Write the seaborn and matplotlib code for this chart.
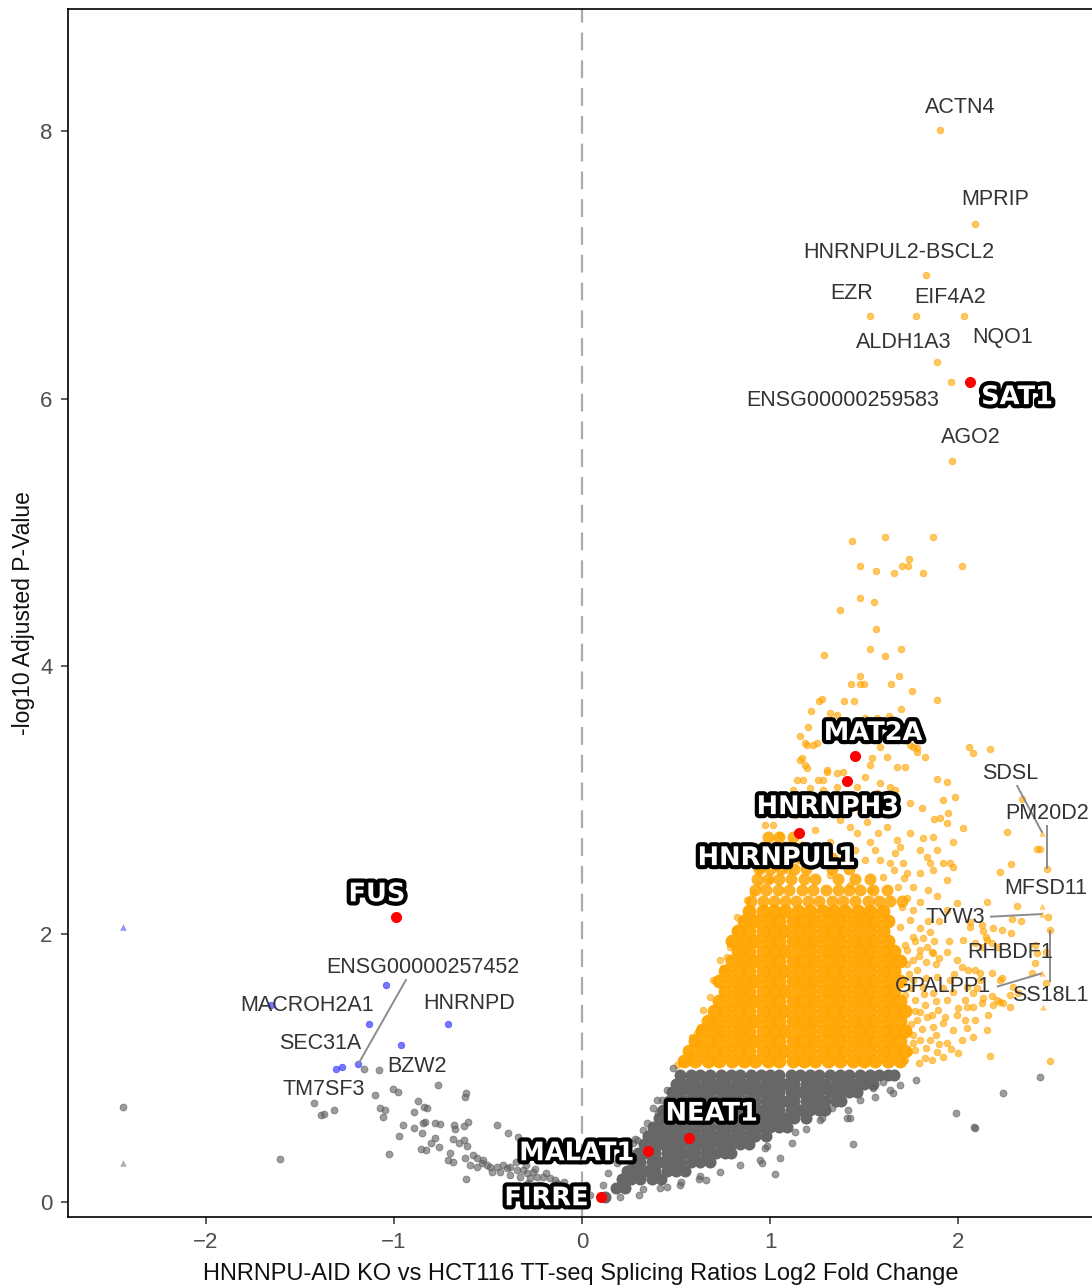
import matplotlib
matplotlib.use("Agg")
import matplotlib.pyplot as plt
import matplotlib.patheffects as pe
import pandas as pd
import seaborn as sns

# ---------------------------------------------------------------- data
# Saturated core of the non-significant cloud: row heights and the x positions on each row
gray_dense_y = [0.04, 0.105, 0.17, 0.235, 0.30, 0.365, 0.43, 0.495, 0.56, 0.625, 0.69, 0.755, 0.82, 0.885, 0.95]
gray_dense_x = [
    [0.12],
    [0.18, 0.23],
    [0.21, 0.26, 0.31, 0.37, 0.42],
    [0.24, 0.29, 0.34, 0.39, 0.45, 0.50, 0.55],
    [0.27, 0.31, 0.37, 0.42, 0.47, 0.52, 0.58, 0.63, 0.68],
    [0.30, 0.34, 0.39, 0.45, 0.50, 0.55, 0.60, 0.66, 0.71, 0.76, 0.79],
    [0.33, 0.37, 0.42, 0.47, 0.52, 0.58, 0.63, 0.68, 0.74, 0.79, 0.84, 0.89],
    [0.35, 0.40, 0.45, 0.50, 0.55, 0.60, 0.66, 0.71, 0.76, 0.82, 0.87, 0.92, 0.98],
    [0.38, 0.42, 0.47, 0.52, 0.58, 0.63, 0.68, 0.74, 0.79, 0.84, 0.90, 0.95, 1.00, 1.05, 1.09],
    [0.41, 0.45, 0.50, 0.55, 0.60, 0.66, 0.71, 0.76, 0.82, 0.87, 0.92, 0.98, 1.03, 1.08, 1.13, 1.19],
    [0.43, 0.47, 0.52, 0.58, 0.63, 0.68, 0.74, 0.79, 0.84, 0.90, 0.95, 1.00, 1.05, 1.11, 1.16, 1.21,
     1.26, 1.29],
    [0.46, 0.50, 0.55, 0.60, 0.66, 0.71, 0.76, 0.82, 0.87, 0.92, 0.98, 1.03, 1.08, 1.13, 1.19, 1.24,
     1.29, 1.35, 1.38],
    [0.48, 0.52, 0.58, 0.63, 0.68, 0.74, 0.79, 0.84, 0.90, 0.95, 1.00, 1.05, 1.11, 1.16, 1.21, 1.26,
     1.32, 1.37, 1.42, 1.46],
    [0.50, 0.55, 0.60, 0.66, 0.71, 0.76, 0.82, 0.87, 0.92, 0.98, 1.03, 1.08, 1.13, 1.19, 1.24, 1.29,
     1.35, 1.40, 1.45, 1.50, 1.55],
    [0.52, 0.58, 0.63, 0.68, 0.74, 0.79, 0.84, 0.90, 0.95, 1.00, 1.05, 1.11, 1.16, 1.21, 1.26, 1.32,
     1.37, 1.42, 1.48, 1.53, 1.58, 1.63, 1.66],
]

# Non-significant genes outside the saturated core
gray_pts = [
    (-2.442, 0.707), (-1.609, 0.319), (-1.158, 0.991), (-1.080, 0.986), (-0.767, 0.872), (-1.006, 0.846),
    (-0.978, 0.824), (-1.101, 0.797), (-0.615, 0.812), (-0.620, 0.783), (-0.873, 0.757), (-1.428, 0.742),
    (-0.843, 0.712), (-0.826, 0.700), (-1.320, 0.687), (-1.373, 0.657), (-1.388, 0.647), (-1.072, 0.700),
    (-1.046, 0.685), (-1.061, 0.637), (-0.892, 0.670), (-0.845, 0.588), (-0.835, 0.600), (-0.782, 0.588),
    (-0.757, 0.580), (-0.681, 0.573), (-0.628, 0.568), (-0.609, 0.597), (-0.452, 0.573), (-0.953, 0.573),
    (-0.896, 0.550), (-0.852, 0.513), (-0.972, 0.491), (-0.676, 0.544), (-0.396, 0.513), (-0.341, 0.483),
    (-0.782, 0.476), (-0.801, 0.443), (-0.763, 0.413), (-0.687, 0.470), (-0.630, 0.463), (-0.611, 0.418),
    (-0.653, 0.438), (-0.854, 0.395), (-0.830, 0.388), (-0.700, 0.368), (-0.715, 0.314), (-0.687, 0.301),
    (-0.620, 0.326), (-0.582, 0.351), (-0.615, 0.170), (-1.029, 0.358),
    (-0.560, 0.326), (-0.525, 0.314), (-0.534, 0.289), (-0.507, 0.276), (-0.489, 0.264), (-0.454, 0.264),
    (-0.419, 0.276), (-0.401, 0.252), (-0.383, 0.264), (-0.347, 0.239), (-0.312, 0.239), (-0.294, 0.214),
    (-0.259, 0.226), (-0.241, 0.189), (-0.206, 0.189), (-0.170, 0.177), (-0.144, 0.164), (-0.135, 0.140),
    (-0.277, 0.177), (-0.330, 0.189), (-0.383, 0.202), (-0.436, 0.226), (-0.480, 0.226), (-0.560, 0.264),
    (-0.596, 0.276), (-0.161, 0.114), (-0.117, 0.114), (-0.081, 0.077), (-0.028, 0.065), (-0.064, 0.040),
    (0.007, 0.090), (0.043, 0.052), (-0.223, 0.127), (-0.287, 0.142), (-0.197, 0.090), (-0.106, 0.052),
    (-0.037, 0.022), (-0.350, 0.300), (-0.300, 0.275), (-0.250, 0.250), (-0.190, 0.215), (-0.095, 0.150),
    (-0.050, 0.110), (0.020, 0.125), (-0.010, 0.030), (-0.150, 0.075),
    (0.397, 0.762), (0.379, 0.700), (0.344, 0.588), (0.406, 0.662), (0.291, 0.463), (0.273, 0.440),
    (0.220, 0.338), (0.185, 0.289), (0.140, 0.214), (0.486, 0.998), (0.451, 0.836), (0.424, 0.762),
    (0.415, 0.687), (0.326, 0.538), (0.282, 0.468), (0.112, 0.127), (0.245, 0.388),
    (1.775, 0.911), (1.656, 0.816), (1.559, 0.786), (2.436, 0.936), (2.241, 0.816), (1.989, 0.667),
    (2.087, 0.558), (2.092, 0.552), (1.443, 0.432), (1.408, 0.627), (1.426, 0.627), (1.191, 0.544),
    (1.115, 0.443), (1.053, 0.331), (0.982, 0.418), (0.959, 0.294), (1.027, 0.207), (0.622, 0.170),
    (0.658, 0.164), (0.527, 0.152), (1.275, 0.627), (1.328, 0.700), (1.549, 0.849), (1.603, 0.898),
    (0.451, 0.114), (0.202, 0.040), (0.305, 0.052), (0.326, 0.095), (1.416, 0.687), (0.947, 0.314),
    (0.840, 0.276), (0.734, 0.224), (0.628, 0.194), (0.415, 0.105), (0.521, 0.127), (1.691, 0.874),
    (1.638, 0.836), (1.479, 0.762), (1.266, 0.612), (1.133, 0.523), (0.973, 0.403),
]
gray_capped = [(-2.444, 0.289)]

# Saturated core of the up-regulated cloud
orange_dense_y = [1.05, 1.125, 1.20, 1.275, 1.35, 1.425, 1.50, 1.575, 1.65, 1.725, 1.80, 1.875,
                  1.95, 2.025, 2.10, 2.175]
orange_dense_x = [
    [0.54, 0.60, 0.67, 0.73, 0.80, 0.86, 0.92, 0.99, 1.05, 1.12, 1.18, 1.24, 1.31, 1.37, 1.44, 1.50,
     1.56, 1.63, 1.69],
    [0.57, 0.64, 0.70, 0.76, 0.83, 0.89, 0.96, 1.02, 1.08, 1.15, 1.21, 1.28, 1.34, 1.40, 1.47, 1.53,
     1.60, 1.66, 1.72],
    [0.60, 0.67, 0.73, 0.80, 0.86, 0.92, 0.99, 1.05, 1.12, 1.18, 1.24, 1.31, 1.37, 1.44, 1.50, 1.56,
     1.63, 1.69],
    [0.64, 0.70, 0.76, 0.83, 0.89, 0.96, 1.02, 1.08, 1.15, 1.21, 1.28, 1.34, 1.40, 1.47, 1.53, 1.60,
     1.66, 1.72],
    [0.67, 0.73, 0.80, 0.86, 0.92, 0.99, 1.05, 1.12, 1.18, 1.24, 1.31, 1.37, 1.44, 1.50, 1.56, 1.63,
     1.69],
    [0.70, 0.76, 0.83, 0.89, 0.96, 1.02, 1.08, 1.15, 1.21, 1.28, 1.34, 1.40, 1.47, 1.53, 1.60, 1.66,
     1.72],
    [0.73, 0.80, 0.86, 0.92, 0.99, 1.05, 1.12, 1.18, 1.24, 1.31, 1.37, 1.44, 1.50, 1.56, 1.63, 1.69],
    [0.76, 0.83, 0.89, 0.96, 1.02, 1.08, 1.15, 1.21, 1.28, 1.34, 1.40, 1.47, 1.53, 1.60, 1.66],
    [0.73, 0.80, 0.86, 0.92, 0.99, 1.05, 1.12, 1.18, 1.24, 1.31, 1.37, 1.44, 1.50, 1.56, 1.63, 1.69],
    [0.76, 0.83, 0.89, 0.96, 1.02, 1.08, 1.15, 1.21, 1.28, 1.34, 1.40, 1.47, 1.53, 1.60, 1.66],
    [0.80, 0.86, 0.92, 0.99, 1.05, 1.12, 1.18, 1.24, 1.31, 1.37, 1.44, 1.50, 1.56, 1.63, 1.69],
    [0.83, 0.89, 0.96, 1.02, 1.08, 1.15, 1.21, 1.28, 1.34, 1.40, 1.47, 1.53, 1.60, 1.66],
    [0.80, 0.86, 0.92, 0.99, 1.05, 1.12, 1.18, 1.24, 1.31, 1.37, 1.44, 1.50, 1.56, 1.63],
    [0.83, 0.89, 0.96, 1.02, 1.08, 1.15, 1.21, 1.28, 1.34, 1.40, 1.47, 1.53, 1.60],
    [0.86, 0.92, 0.99, 1.05, 1.12, 1.18, 1.24, 1.31, 1.37, 1.44, 1.50, 1.56, 1.63],
    [0.89, 0.96, 1.02, 1.08, 1.15, 1.21, 1.28, 1.34, 1.40, 1.47, 1.53, 1.60],
]
# Crowded band just above the core
orange_mid_y = [2.25, 2.33, 2.41, 2.49, 2.57, 2.65, 2.73]
orange_mid_x = [
    [0.90, 0.96, 1.02, 1.08, 1.14, 1.20, 1.26, 1.33, 1.39, 1.45, 1.52, 1.58, 1.64, 1.70],
    [0.92, 0.98, 1.04, 1.10, 1.17, 1.23, 1.30, 1.36, 1.42, 1.48, 1.55, 1.62],
    [0.93, 0.99, 1.05, 1.11, 1.18, 1.24, 1.36, 1.45, 1.53],
    [0.94, 1.00, 1.06, 1.13, 1.19, 1.33, 1.42],
    [0.95, 1.01, 1.08, 1.16, 1.24, 1.33],
    [0.96, 1.03, 1.09, 1.17],
    [0.99, 1.05, 1.12],
]

# Up-regulated genes outside the core
orange_pts = [
    (1.904, 8.006), (2.090, 7.304), (1.830, 6.923), (1.532, 6.617), (1.777, 6.617), (2.032, 6.617),
    (1.888, 6.273), (1.963, 6.124), (1.968, 5.534),
    (1.436, 4.937), (1.612, 4.966), (1.867, 4.966), (1.739, 4.802), (1.702, 4.750), (1.734, 4.750),
    (1.660, 4.698), (1.814, 4.698), (2.021, 4.750), (1.479, 4.750), (1.564, 4.712), (1.479, 4.511),
    (1.553, 4.481), (1.372, 4.421), (1.564, 4.279), (1.532, 4.130), (1.612, 4.078), (1.697, 4.130),
    (1.287, 4.085), (1.479, 3.928), (1.686, 3.928), (1.431, 3.869), (1.479, 3.869), (1.500, 3.869),
    (1.644, 3.869), (1.755, 3.816), (1.888, 3.749), (1.261, 3.742), (1.277, 3.757), (1.394, 3.742),
    (1.447, 3.742), (1.697, 3.682), (1.218, 3.667), (1.319, 3.652),
    (1.356, 3.637), (1.505, 3.615), (1.569, 3.615), (1.633, 3.630), (1.160, 3.480), (1.202, 3.547),
    (1.186, 3.428), (1.250, 3.428), (1.569, 3.525), (1.622, 3.450), (1.745, 3.413), (1.782, 3.391),
    (1.824, 3.323), (1.543, 3.316), (1.532, 3.264), (1.160, 3.301), (1.186, 3.264), (1.197, 3.241),
    (1.303, 3.211), (1.388, 3.211), (1.505, 3.174), (1.585, 3.129), (1.638, 3.099), (1.718, 3.249),
    (1.888, 3.159), (1.941, 3.137), (1.144, 3.152), (1.176, 3.152), (1.255, 3.152), (1.282, 3.152),
    (1.122, 3.077), (1.213, 3.092), (1.282, 3.077), (1.356, 3.099), (1.463, 3.099), (1.532, 3.025),
    (1.569, 3.055), (1.638, 3.025), (1.665, 3.077), (1.745, 2.980), (1.809, 2.942), (1.920, 3.002),
    (1.984, 3.025), (2.027, 2.793), (1.941, 2.830), (1.904, 2.868), (1.973, 2.689), (1.745, 2.756),
    (1.814, 2.718), (1.867, 2.726), (1.888, 2.629), (1.851, 2.532), (1.920, 2.532), (1.973, 2.502),
    (1.798, 2.629), (1.835, 2.577), (1.676, 2.704), (1.691, 2.651), (1.665, 2.606), (1.707, 2.532),
    (1.729, 2.457), (1.638, 2.532), (1.601, 2.427), (1.622, 2.801), (1.574, 2.756), (1.532, 2.689),
    (1.463, 2.756), (1.426, 2.801), (1.516, 2.838), (1.016, 2.816), (0.973, 2.816),
    (1.053, 2.741), (1.106, 2.666), (1.027, 2.554), (1.160, 2.629), (1.239, 2.778), (1.319, 2.689),
    (1.372, 2.853), (1.266, 2.928), (1.133, 2.890), (1.080, 3.002), (1.399, 2.965), (1.479, 2.913),
    (1.452, 2.629), (1.372, 2.554), (1.505, 2.554), (1.559, 2.629), (0.947, 2.479), (1.000, 2.405),
    (1.096, 2.479), (1.213, 2.517), (1.319, 2.442), (1.426, 2.367), (1.532, 2.330), (1.585, 2.554),
    (1.195, 3.413), (1.230, 3.413), (1.172, 3.313), (1.302, 3.226), (1.355, 3.201), (1.585, 3.400),
    (1.621, 3.326), (1.674, 3.251), (1.762, 3.400), (1.780, 3.363),
    (2.059, 3.398), (2.080, 3.353), (2.170, 3.383), (2.261, 2.763), (2.340, 3.010), (2.422, 2.636),
    (2.436, 2.636), (2.282, 2.522), (2.223, 2.467), (2.475, 2.487), (1.872, 2.860), (1.947, 2.905),
    (2.315, 2.213), (2.153, 2.243), (2.480, 2.131), (2.286, 2.111), (2.335, 2.099), (2.232, 2.031),
    (2.280, 2.011), (2.188, 2.044), (2.135, 2.026), (2.064, 2.056), (2.149, 1.981), (2.179, 1.937),
    (2.126, 1.907), (2.410, 1.919), (2.419, 1.857), (2.468, 1.869), (2.411, 1.785), (2.392, 1.708),
    (2.468, 1.638), (2.294, 1.609), (2.277, 1.546), (2.223, 1.658), (2.179, 1.708), (2.117, 1.708),
    (2.055, 1.733), (2.241, 1.484), (2.206, 1.509), (2.188, 1.471), (2.135, 1.521), (2.081, 1.459),
    (2.037, 1.509), (2.321, 1.559), (2.489, 1.053), (2.170, 1.093), (2.126, 2.069), (2.489, 2.031),
    (1.798, 1.882), (1.834, 1.907), (1.869, 1.857), (1.940, 1.869), (1.993, 1.807), (2.020, 1.757),
    (2.090, 1.733), (2.117, 1.658), (2.232, 1.671), (2.179, 1.535), (2.223, 1.496), (2.277, 1.459),
    (2.126, 1.485), (2.081, 1.559), (2.046, 1.459), (1.993, 1.397), (2.037, 1.359), (2.090, 1.359),
    (2.153, 1.285), (2.081, 1.234), (2.020, 1.210), (1.940, 1.185), (1.887, 1.122), (1.975, 1.285),
    (1.922, 1.335), (1.869, 1.309), (1.834, 1.384), (1.895, 1.434), (1.940, 1.509), (1.869, 1.559),
    (1.815, 1.608), (1.762, 1.658), (1.887, 1.683), (1.957, 1.658), (1.975, 1.572), (2.046, 1.609),
    (1.762, 1.807), (1.727, 1.882), (1.762, 1.983), (1.815, 1.971), (1.691, 2.056), (1.745, 2.106),
    (1.940, 2.181), (1.993, 2.231), (1.887, 2.282), (1.842, 2.330), (1.762, 2.355), (1.798, 2.455),
    (1.869, 2.480), (1.940, 2.405), (1.957, 2.529), (2.064, 2.093), (2.028, 1.957), (2.090, 1.933),
    (2.153, 1.957), (2.214, 1.907),
    (1.718, 1.060), (1.771, 1.135), (1.824, 1.075), (1.798, 1.210), (1.734, 1.285), (1.782, 1.359),
    (1.824, 1.471), (1.718, 1.546), (1.771, 1.509), (1.851, 1.210), (1.780, 1.730), (1.830, 1.790),
    (1.880, 1.780), (1.800, 2.050), (1.850, 2.020), (1.900, 2.100), (1.870, 1.950), (1.950, 1.950),
    (1.760, 1.250), (1.800, 1.420),
    (1.740, 1.120), (1.790, 1.040), (1.860, 1.060), (1.920, 1.080), (1.760, 1.190), (1.830, 1.150),
    (1.900, 1.180), (1.960, 1.140), (1.750, 1.330), (1.810, 1.290), (1.880, 1.250), (1.770, 1.430),
    (1.860, 1.400), (1.930, 1.380), (1.750, 1.600), (1.820, 1.550), (1.880, 1.500), (1.920, 1.600),
    (1.740, 1.700), (1.830, 1.670), (1.980, 1.700), (1.730, 1.780), (1.790, 1.840), (1.860, 1.870),
    (1.900, 1.820), (1.720, 1.920), (1.770, 1.950), (1.840, 2.100), (1.760, 2.180), (1.700, 2.200),
    (1.730, 2.270), (1.800, 2.240), (1.680, 2.350), (1.710, 2.420), (1.660, 2.480), (2.000, 1.110),
    (2.050, 1.300), (2.000, 1.450), (2.100, 1.600), (2.160, 1.400),
    (0.504, 1.023), (0.530, 1.048), (0.557, 1.060), (0.583, 1.234), (0.619, 1.185), (0.574, 1.098),
    (0.628, 1.309), (0.645, 1.434), (0.698, 1.372), (0.681, 1.533), (0.698, 1.658), (0.734, 1.807),
    (0.752, 1.746), (0.770, 1.833), (0.787, 1.907), (0.814, 2.031), (0.823, 2.131), (0.876, 2.255),
    (0.911, 2.305), (0.947, 2.367), (0.610, 1.260),
]
# Values beyond the x range, drawn at the axis cap
orange_capped = [(2.448, 2.758), (2.448, 2.213), (2.447, 2.151), (2.445, 1.708), (2.451, 1.459)]

# Down-regulated genes
blue_pts = [(-1.044, 1.621), (-1.656, 1.471), (-1.135, 1.332), (-0.712, 1.329), (-0.961, 1.169),
            (-1.190, 1.031), (-1.309, 0.993), (-1.277, 1.006)]
blue_capped = [(-2.444, 2.052)]

# Genes of interest
highlight_genes = ["SAT1", "MAT2A", "HNRNPH3", "HNRNPUL1", "FUS", "NEAT1", "MALAT1", "FIRRE"]
highlight_lfc = [2.064, 1.452, 1.409, 1.154, -0.991, 0.571, 0.349, 0.099]
highlight_padj = [6.124, 3.331, 3.144, 2.756, 2.131, 0.476, 0.383, 0.040]

# Leader-line targets for repelled labels
leader_targets = {
    "ENSG00000257452": (-1.190, 1.031), "SDSL": (2.448, 2.758), "PM20D2": (2.475, 2.487),
    "TYW3": (2.447, 2.151), "GPALPP1": (2.445, 1.708), "SS18L1": (2.489, 2.031),
}

# ---------------------------------------------------------------- layout
gene_label_pos = {
    "ACTN4": (2.011, 8.178), "MPRIP": (2.197, 7.491), "HNRNPUL2-BSCL2": (1.686, 7.095),
    "EZR": (1.436, 6.789), "EIF4A2": (1.957, 6.759), "NQO1": (2.239, 6.460),
    "ALDH1A3": (1.713, 6.423), "ENSG00000259583": (1.388, 5.990), "AGO2": (2.069, 5.713),
    "SDSL": (2.277, 3.204), "PM20D2": (2.473, 2.905), "MFSD11": (2.468, 2.345),
    "TYW3": (1.984, 2.128), "RHBDF1": (2.277, 1.860), "GPALPP1": (1.920, 1.606),
    "SS18L1": (2.489, 1.546), "ENSG00000257452": (-0.848, 1.753), "MACROH2A1": (-1.460, 1.471),
    "HNRNPD": (-0.601, 1.479), "SEC31A": (-1.394, 1.185), "BZW2": (-0.878, 1.010),
    "TM7SF3": (-1.374, 0.841),
}
leader_start = {
    "ENSG00000257452": (-0.934, 1.665), "SDSL": (2.312, 3.114), "PM20D2": (2.475, 2.816),
    "TYW3": (2.170, 2.131), "GPALPP1": (2.206, 1.608), "SS18L1": (2.489, 1.643),
}
highlight_label_pos = {
    "SAT1": (2.314, 6.012), "MAT2A": (1.548, 3.503), "HNRNPH3": (1.309, 2.950),
    "HNRNPUL1": (1.037, 2.569), "FUS": (-1.090, 2.298), "NEAT1": (0.690, 0.660),
    "MALAT1": (-0.028, 0.364), "FIRRE": (-0.188, 0.028),
}

ORANGE = "#FFA500"
GRAY = "#606060"
BLUE = "#3a3aff"


def rows_frame(ys, xs):
    return pd.DataFrame({"x": [x for y, row in zip(ys, xs) for x in row],
                         "y": [y for y, row in zip(ys, xs) for x in row]})


def pts_frame(pts):
    return pd.DataFrame(pts, columns=["x", "y"])


sns.set_style("ticks")
plt.rcParams["font.family"] = ["Liberation Sans", "DejaVu Sans"]

fig = plt.figure(figsize=(10.92, 12.88), dpi=100, facecolor="white")
ax = fig.add_axes([68 / 1092, 1 - 1217 / 1288, (1094 - 68) / 1092, (1217 - 9) / 1288])

ax.axvline(0, color="#ababab", lw=1.6, ls=(0, (8, 4.5)), zorder=0.5)

# up-regulated
sns.scatterplot(data=rows_frame(orange_dense_y, orange_dense_x), x="x", y="y", ax=ax,
                color=ORANGE, s=100, alpha=0.95, linewidth=0, legend=False, zorder=1)
sns.scatterplot(data=rows_frame(orange_mid_y, orange_mid_x), x="x", y="y", ax=ax,
                color=ORANGE, s=75, alpha=0.85, linewidth=0, legend=False, zorder=1.1)
sns.scatterplot(data=pts_frame(orange_pts), x="x", y="y", ax=ax, color=ORANGE, s=22,
                alpha=0.62, edgecolor=ORANGE, linewidth=0.7, legend=False, zorder=1.2)
sns.scatterplot(data=pts_frame(orange_capped), x="x", y="y", ax=ax, color=ORANGE, s=22,
                marker="^", alpha=0.55, linewidth=0, legend=False, zorder=1.2)

# not significant
sns.scatterplot(data=rows_frame(gray_dense_y, gray_dense_x), x="x", y="y", ax=ax,
                color="#676767", s=75, alpha=1.0, linewidth=0, legend=False, zorder=2)
sns.scatterplot(data=pts_frame(gray_pts), x="x", y="y", ax=ax, color=GRAY, s=24,
                alpha=0.62, edgecolor=GRAY, linewidth=0.7, legend=False, zorder=2.1)
sns.scatterplot(data=pts_frame(gray_capped), x="x", y="y", ax=ax, color=GRAY, s=22,
                marker="^", alpha=0.5, linewidth=0, legend=False, zorder=2.1)

# down-regulated
sns.scatterplot(data=pts_frame(blue_pts), x="x", y="y", ax=ax, color=BLUE, s=22,
                alpha=0.7, edgecolor=BLUE, linewidth=0.6, legend=False, zorder=3)
sns.scatterplot(data=pts_frame(blue_capped), x="x", y="y", ax=ax, color=BLUE, s=22,
                marker="^", alpha=0.55, linewidth=0, legend=False, zorder=3)

# genes of interest
sns.scatterplot(x=highlight_lfc, y=highlight_padj, ax=ax, color="#ff0000", s=64,
                linewidth=0, legend=False, zorder=4)

# leader lines
for gene, (tx, ty) in leader_targets.items():
    sx, sy = leader_start[gene]
    ax.plot([sx, tx], [sy, ty], color="#8c8c8c", lw=1.4, zorder=4.5, solid_capstyle="butt")

# repelled gene labels
for gene, (lx, ly) in gene_label_pos.items():
    ax.text(lx, ly, gene, ha="center", va="center", fontsize=15.5, color="#333333", zorder=5)

# highlighted labels: white text with a black halo
for gene in highlight_genes:
    lx, ly = highlight_label_pos[gene]
    ax.text(lx, ly, gene, ha="center", va="center", fontsize=18.5, fontweight="bold",
            family=["DejaVu Sans"], color="white", zorder=6,
            path_effects=[pe.withStroke(linewidth=6, foreground="black", capstyle="round",
                                        joinstyle="round")])

ax.set_xlim(-2.734, 2.723)
ax.set_ylim(-0.112, 8.911)
ax.set_xticks([-2, -1, 0, 1, 2])
ax.set_yticks([0, 2, 4, 6, 8])
ax.tick_params(axis="both", length=5, width=1.1, color="#333333", labelsize=16,
               labelcolor="#4d4d4d", pad=6)
for side in ["left", "bottom", "top", "right"]:
    ax.spines[side].set_visible(True)
    ax.spines[side].set_color("black")
    ax.spines[side].set_linewidth(1.2)

ax.set_xlabel("HNRNPU-AID KO vs HCT116 TT-seq Splicing Ratios Log2 Fold Change",
              fontsize=17, color="#111111", labelpad=7)
ax.set_ylabel("-log10 Adjusted P-Value", fontsize=16.5, color="#111111", labelpad=4)

fig.savefig("out.png", dpi=100, facecolor="white")
